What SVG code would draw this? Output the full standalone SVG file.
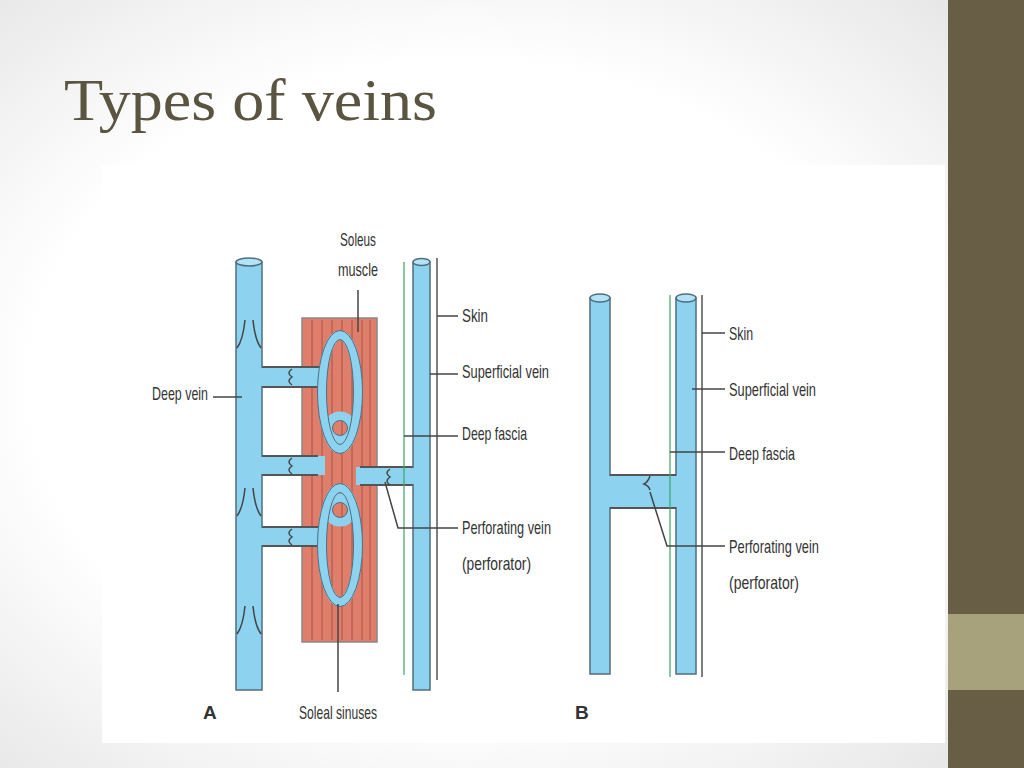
<svg xmlns="http://www.w3.org/2000/svg" width="1024" height="768" viewBox="0 0 1024 768">
<defs>
<radialGradient id="bg" cx="0.45" cy="0.5" r="0.7"><stop offset="0.6" stop-color="#ffffff"/><stop offset="1" stop-color="#e6e6e6"/></radialGradient>
</defs>
<style>
.v{fill:#8dd3ef;stroke:#4f6f80;stroke-width:1.5}
.cap{fill:#b4e3f5;stroke:#4f6f80;stroke-width:1.5}
.br{fill:#8dd3ef;stroke:none}
.edge{stroke:#555;stroke-width:2;fill:none}
.sin{fill:none;stroke:#8dd3ef;stroke-width:9}
.sinE{fill:none;stroke:#4f6f80;stroke-width:1}
.ld{stroke:#444;stroke-width:1.5;fill:none}
.lb{font-family:'Liberation Sans',Arial,sans-serif;font-size:19px;fill:#333}
.mus{stroke:#9a4a3c;stroke-width:0.8}
</style>
<rect width="1024" height="768" fill="url(#bg)"/>
<rect x="948" y="0" width="76" height="768" fill="#685e45"/>
<rect x="948" y="614" width="76" height="76" fill="#a8a27c"/>
<text x="64" y="120" font-family="'Liberation Serif',serif" font-size="60" fill="#5a5440" textLength="373" lengthAdjust="spacingAndGlyphs">Types of veins</text>
<rect x="102" y="165" width="843" height="578" fill="#ffffff"/>

<g id="diagramA">
<g id="muscle">
<rect x="302" y="318" width="75" height="324" fill="#e07e6c" stroke="#888" stroke-width="1.5"/>
<g class="mus"><line x1="312" y1="320" x2="312" y2="640"/><line x1="322" y1="320" x2="322" y2="640"/><line x1="332" y1="320" x2="332" y2="640"/><line x1="342" y1="320" x2="342" y2="640"/><line x1="352" y1="320" x2="352" y2="640"/><line x1="362" y1="320" x2="362" y2="640"/><line x1="370" y1="320" x2="370" y2="640"/></g>
</g>
<g id="branches">
<rect class="br" x="255" y="367" width="70" height="20"/>
<rect class="br" x="255" y="456" width="70" height="19"/>
<rect class="br" x="255" y="527" width="68" height="19"/>
<rect class="br" x="356" y="467" width="60" height="18"/>
<path class="edge" d="M262 367H320M262 387H318M262 456H318M262 475H318M262 527H318M262 546H318M360 467H413M360 485H413"/>
<path class="ld" d="M292 369q-6 4 0 8q-6 4 0 8M292 458q-6 4 0 8q-6 4 0 8M292 529q-6 4 0 8q-6 4 0 8M390 469q-6 4 0 8q-6 4 0 8"/>
</g>
<g id="sinuses">
<ellipse class="sin" cx="340" cy="392" rx="18" ry="57"/>
<ellipse class="sin" cx="340" cy="545" rx="18" ry="57"/>
<circle class="sin" cx="340" cy="428" r="12" stroke-width="9"/>
<circle class="sin" cx="340" cy="510" r="12" stroke-width="9"/>
<ellipse class="sinE" cx="340" cy="392" rx="22.5" ry="61.5"/>
<ellipse class="sinE" cx="340" cy="545" rx="22.5" ry="61.5"/>
<ellipse class="sinE" cx="340" cy="392" rx="13.5" ry="52.5"/>
<ellipse class="sinE" cx="340" cy="545" rx="13.5" ry="52.5"/>
<circle class="sinE" cx="340" cy="428" r="7.5"/>
<circle class="sinE" cx="340" cy="510" r="7.5"/>
</g>
<g id="deepVeinA">
<rect class="v" x="236" y="262" width="26" height="428"/>
<ellipse class="cap" cx="249" cy="262" rx="13" ry="4"/>
<path class="ld" d="M245 320q-2 20-8 28M253 320q2 20 8 28M245 488q-2 20-8 28M253 488q2 20 8 28M245 606q-2 20-8 28M253 606q2 20 8 28"/>
<rect class="br" x="237" y="368" width="26" height="18"/><rect class="br" x="237" y="457" width="26" height="17"/><rect class="br" x="237" y="528" width="26" height="17"/>
</g>
<g id="superficialA">
<line x1="404" y1="262" x2="404" y2="675" stroke="#3aa66a" stroke-width="1.2"/>
<rect class="v" x="413" y="262" width="17" height="428"/>
<ellipse class="cap" cx="421.5" cy="262" rx="8.5" ry="3.5"/>
<rect class="br" x="412" y="468" width="4" height="16"/>
<line x1="437" y1="258" x2="437" y2="680" stroke="#555" stroke-width="1.5"/>
</g>
<g id="labelsA">
<text class="lb" x="340" y="246" textLength="36" lengthAdjust="spacingAndGlyphs">Soleus</text>
<text class="lb" x="338" y="276" textLength="40" lengthAdjust="spacingAndGlyphs">muscle</text>
<path class="ld" d="M358 290V332"/>
<text class="lb" x="462" y="322" textLength="26" lengthAdjust="spacingAndGlyphs">Skin</text><path class="ld" d="M437 316H458"/>
<text class="lb" x="462" y="378" textLength="87" lengthAdjust="spacingAndGlyphs">Superficial vein</text><path class="ld" d="M430 374H458"/>
<text class="lb" x="462" y="440" textLength="65" lengthAdjust="spacingAndGlyphs">Deep fascia</text><path class="ld" d="M404 436H458"/>
<text class="lb" x="462" y="534" textLength="89" lengthAdjust="spacingAndGlyphs">Perforating vein</text>
<text class="lb" x="462" y="570" textLength="69" lengthAdjust="spacingAndGlyphs">(perforator)</text>
<path class="ld" d="M385 482L398 528H458"/>
<text class="lb" x="152" y="400" textLength="56" lengthAdjust="spacingAndGlyphs">Deep vein</text><path class="ld" d="M213 397H242"/>
<text class="lb" x="299" y="719" textLength="78" lengthAdjust="spacingAndGlyphs">Soleal sinuses</text><path class="ld" d="M338 604V692"/>
<text class="lb" x="203" y="719" font-weight="bold">A</text>
</g>
</g>

<g id="diagramB">
<g id="veinsB">
<rect class="br" x="605" y="475" width="76" height="33"/>
<rect class="v" x="590" y="298" width="20" height="376"/>
<rect class="v" x="676" y="298" width="20" height="376"/>
<rect class="br" x="591" y="476" width="104" height="31"/>
<path class="edge" d="M610 475H676M610 508H676"/>
<ellipse class="cap" cx="600" cy="298" rx="10" ry="4"/>
<ellipse class="cap" cx="686" cy="298" rx="10" ry="4"/>
<line x1="670" y1="295" x2="670" y2="677" stroke="#3aa66a" stroke-width="1.2"/>
<line x1="702" y1="295" x2="702" y2="677" stroke="#555" stroke-width="1.5"/>
<path class="ld" d="M650 476q-2 6 -6 8q5 2 6 6"/>
</g>
<g id="labelsB">
<text class="lb" x="729" y="340" textLength="24" lengthAdjust="spacingAndGlyphs">Skin</text><path class="ld" d="M702 333H725"/>
<text class="lb" x="729" y="396" textLength="87" lengthAdjust="spacingAndGlyphs">Superficial vein</text><path class="ld" d="M692 389H725"/>
<text class="lb" x="729" y="460" textLength="66" lengthAdjust="spacingAndGlyphs">Deep fascia</text><path class="ld" d="M670 452H725"/>
<text class="lb" x="729" y="553" textLength="90" lengthAdjust="spacingAndGlyphs">Perforating vein</text>
<text class="lb" x="729" y="589" textLength="70" lengthAdjust="spacingAndGlyphs">(perforator)</text>
<path class="ld" d="M650 492L667 546H725"/>
<text class="lb" x="575" y="719" font-weight="bold">B</text>
</g>
</g>
</svg>
